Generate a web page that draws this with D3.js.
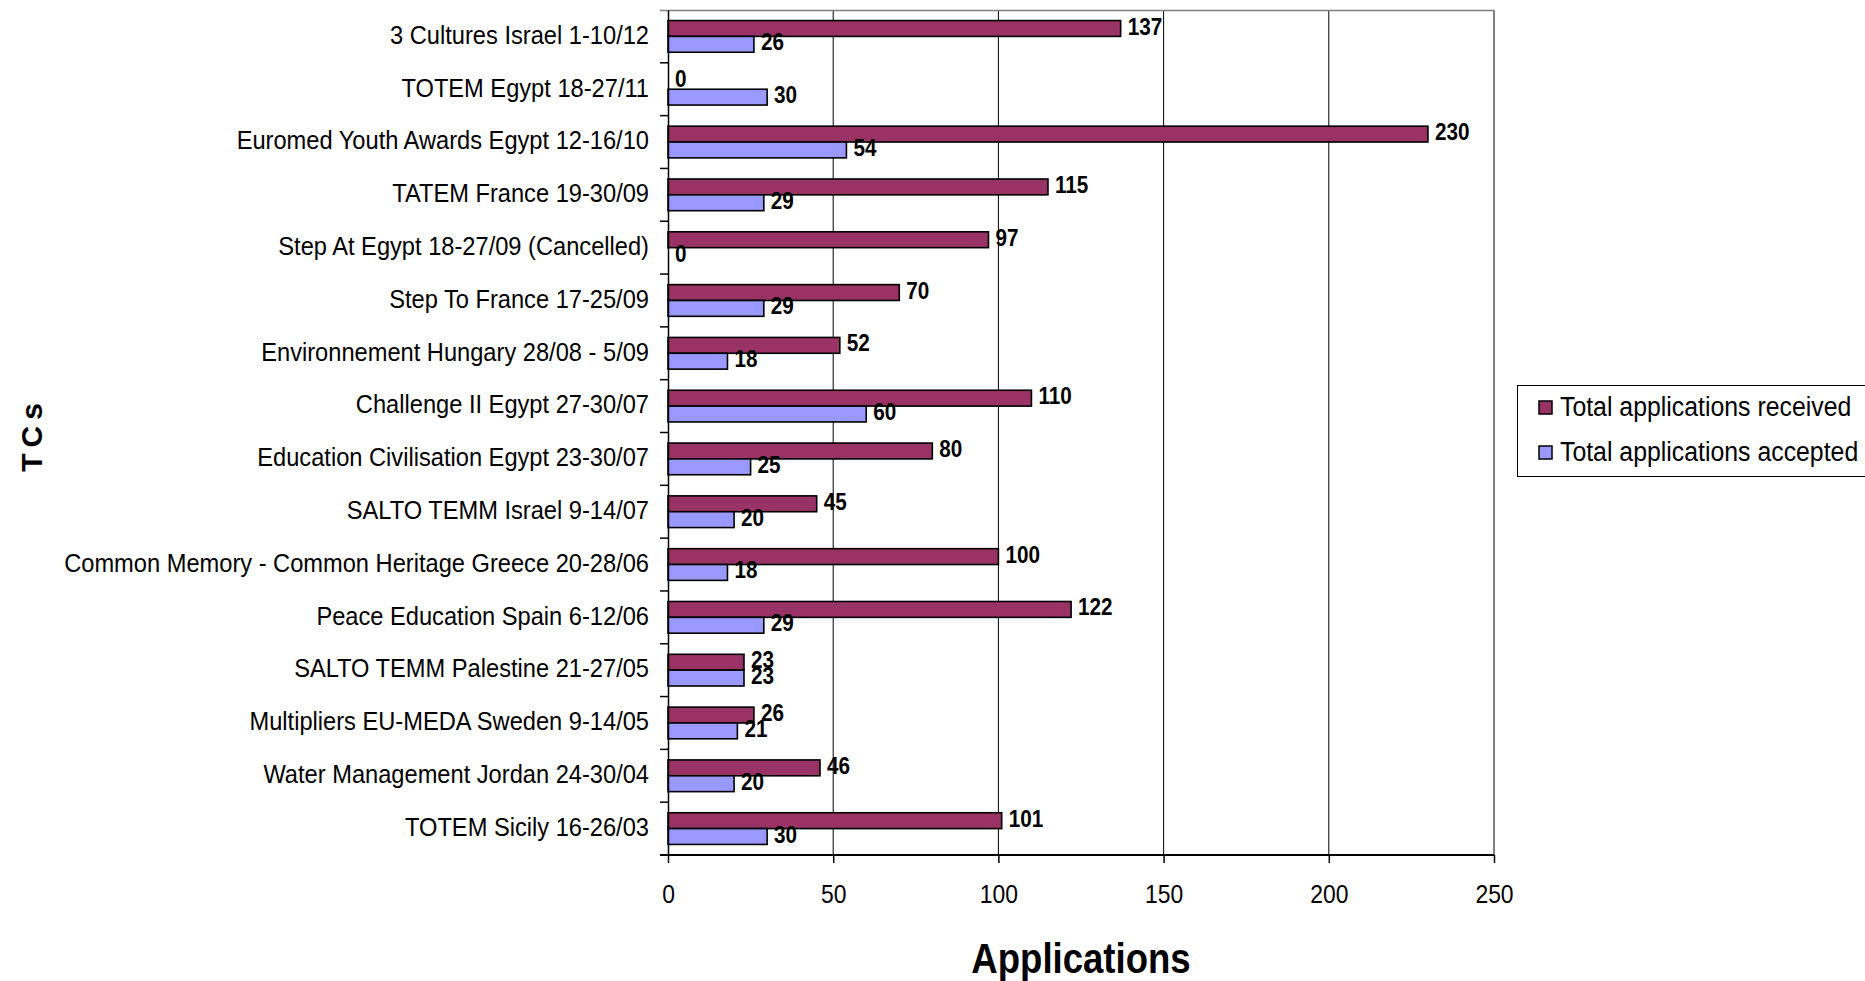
<!DOCTYPE html>
<html>
<head>
<meta charset="utf-8">
<script src="https://cdn.jsdelivr.net/npm/d3@7.9.0/dist/d3.min.js"></script>
<style>
  body { margin: 0; background: #fff; }
  text { font-family: "Liberation Sans Narrow", "Arial Narrow", "Liberation Sans", Arial, sans-serif; }
</style>
</head>
<body>
<script>
// ** Data **
const categories = [
    "3 Cultures Israel 1-10/12",
    "TOTEM Egypt 18-27/11",
    "Euromed Youth Awards Egypt 12-16/10",
    "TATEM France 19-30/09",
    "Step At Egypt 18-27/09 (Cancelled)",
    "Step To France 17-25/09",
    "Environnement Hungary 28/08 - 5/09",
    "Challenge II Egypt 27-30/07",
    "Education Civilisation Egypt 23-30/07",
    "SALTO TEMM Israel 9-14/07",
    "Common Memory - Common Heritage Greece 20-28/06",
    "Peace Education Spain 6-12/06",
    "SALTO TEMM Palestine 21-27/05",
    "Multipliers EU-MEDA Sweden 9-14/05",
    "Water Management Jordan 24-30/04",
    "TOTEM Sicily 16-26/03"
];
const received = [137, 0, 230, 115, 97, 70, 52, 110, 80, 45, 100, 122, 23, 26, 46, 101];
const accepted = [26, 30, 54, 29, 0, 29, 18, 60, 25, 20, 18, 29, 23, 21, 20, 30];
const seriesNames = ["Total applications received", "Total applications accepted"];
const xTicks = [0, 50, 100, 150, 200, 250];

const colors = ["#993366", "#9999FF"];

// squeeze text horizontally (the original font is a condensed one)
function condense(sel, sx) {
    sel.each(function () {
        const t = d3.select(this);
        const x0 = +t.attr("x") || 0;
        t.attr("x", x0 / sx).attr("transform", `scale(${sx},1)`);
    });
}

// ** SVG Setup **
const width = 1865, height = 981;
const margin = { top: 10, right: 371, bottom: 126, left: 668 };
const plotW = width - margin.left - margin.right;
const plotH = height - margin.top - margin.bottom;

const svg = d3.select("body").append("svg")
    .attr("width", width)
    .attr("height", height);

const g = svg.append("g")
    .attr("transform", `translate(${margin.left},${margin.top})`);

const x = d3.scaleLinear().domain([0, 250]).range([0, plotW]);
const y = d3.scaleBand().domain(categories).range([0, plotH]).paddingInner(0.4).paddingOuter(0.2);
const y0 = d3.scaleBand().domain(categories).range([0, plotH]);
const ySub = d3.scaleBand().domain([0, 1]).range([0, y.bandwidth()]);

// ** Gridlines **
g.selectAll(".grid")
    .data(xTicks.slice(1))
    .enter()
    .append("line")
    .attr("x1", d => x(d)).attr("x2", d => x(d))
    .attr("y1", 0).attr("y2", plotH)
    .attr("stroke", "#000")
    .attr("stroke-width", 1);

// top border
g.append("line")
    .attr("x1", -8).attr("x2", plotW)
    .attr("y1", 0.5).attr("y2", 0.5)
    .attr("stroke", "#808080")
    .attr("stroke-width", 1.5);

// ** Bars **
const rows = categories.map((c, i) => ({ cat: c, vals: [received[i], accepted[i]] }));

const rowG = g.selectAll(".row")
    .data(rows)
    .enter()
    .append("g")
    .attr("transform", d => `translate(0,${y(d.cat)})`);

rowG.selectAll("rect")
    .data(d => d.vals.map((v, k) => ({ v, k })))
    .enter()
    .append("rect")
    .attr("x", 0)
    .attr("y", d => ySub(d.k))
    .attr("width", d => x(d.v))
    .attr("height", ySub.bandwidth())
    .attr("fill", d => colors[d.k])
    .attr("stroke", "#000")
    .attr("stroke-width", 1.6)
    .attr("display", d => d.v === 0 ? "none" : null);

// ** Value labels **
rowG.selectAll(".val")
    .data(d => d.vals.map((v, k) => ({ v, k })))
    .enter()
    .append("text")
    .attr("x", d => x(d.v) + 7)
    .attr("y", d => ySub(d.k) + ySub.bandwidth() / 2 - 2)
    .attr("dy", "0.35em")
    .text(d => d.v)
    .style("font-size", "23px")
    .style("font-weight", "bold")
    .style("fill", "#000")
    .call(condense, 0.9);

// ** Y axis **
const yAxis = g.append("g")
    .call(d3.axisLeft(y0).tickSize(0).tickPadding(19));
yAxis.select(".domain").attr("stroke", "#000").attr("stroke-width", 1.5);
yAxis.selectAll("text")
    .attr("dy", "0.28em")
    .style("font-size", "26px")
    .style("fill", "#000")
    .call(condense, 0.91);

// category tick marks on band boundaries
g.selectAll(".ytick")
    .data(categories.slice(1))
    .enter()
    .append("line")
    .attr("x1", -8).attr("x2", 0)
    .attr("y1", d => y0(d)).attr("y2", d => y0(d))
    .attr("stroke", "#000")
    .attr("stroke-width", 1.5);

// ** X axis **
const xAxis = g.append("g")
    .attr("transform", `translate(0,${plotH})`)
    .call(d3.axisBottom(x).tickValues(xTicks).tickSize(8).tickPadding(22).tickSizeOuter(0));
xAxis.select(".domain").remove();
xAxis.append("line")
    .attr("x1", -8).attr("x2", plotW)
    .attr("stroke", "#000")
    .attr("stroke-width", 2);
xAxis.selectAll(".tick line").attr("stroke", "#000").attr("stroke-width", 1.5);
xAxis.selectAll("text")
    .style("font-size", "26px")
    .style("fill", "#000")
    .call(condense, 0.88);

// ** Axis titles **
svg.append("text")
    .attr("x", margin.left + plotW / 2)
    .attr("y", 973)
    .attr("text-anchor", "middle")
    .text("Applications")
    .style("font-size", "43px")
    .style("font-weight", "bold")
    .call(condense, 0.85);

svg.append("text")
    .attr("transform", `translate(42,${margin.top + plotH / 2 + 2}) rotate(-90)`)
    .attr("text-anchor", "middle")
    .text("TCs")
    .style("font-size", "30px")
    .style("font-weight", "bold")
    .style("letter-spacing", "6px")
    .style("font-family", "Arial, 'Liberation Sans', sans-serif");

// ** Legend **
const legend = svg.append("g").attr("transform", "translate(1517,385)");
legend.append("rect")
    .attr("x", 0.5).attr("y", 0.5)
    .attr("width", 400).attr("height", 91)
    .attr("fill", "#fff")
    .attr("stroke", "#000")
    .attr("stroke-width", 1);

const items = legend.selectAll(".item")
    .data(seriesNames)
    .enter()
    .append("g")
    .attr("transform", (d, i) => `translate(22,${22 + i * 45})`);

items.append("rect")
    .attr("x", 0).attr("y", -6)
    .attr("width", 13).attr("height", 13)
    .attr("fill", (d, i) => colors[i])
    .attr("stroke", "#000")
    .attr("stroke-width", 1.5);

items.append("text")
    .attr("x", 21)
    .attr("dy", "0.35em")
    .text(d => d)
    .style("font-size", "27px")
    .style("fill", "#000")
    .call(condense, 0.92);
</script>
</body>
</html>
